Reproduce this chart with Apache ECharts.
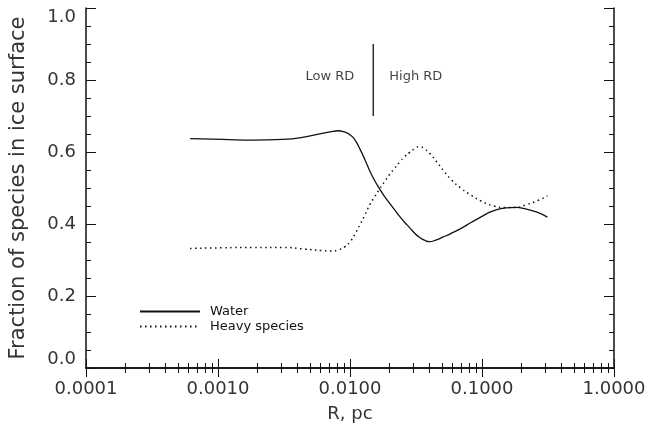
<!DOCTYPE html>
<html>
<head>
<meta charset="utf-8">
<script src="https://cdn.jsdelivr.net/npm/echarts@6/dist/echarts.min.js"></script>
<style>
  html, body { margin: 0; padding: 0; background: #fff; }
  #chart { width: 651px; height: 432px; }
</style>
</head>
<body>
<div id="chart"></div>
<script>
// radius (pc) sampled along both curves
const radius = [0.000615, 0.00109, 0.00183, 0.00308, 0.00459, 0.00615, 0.00707, 0.00813, 0.00916, 0.0100,
  0.0109, 0.0119, 0.0130, 0.0141, 0.0154, 0.0168, 0.0183, 0.0200, 0.0218, 0.0238,
  0.0259, 0.0283, 0.0308, 0.0336, 0.0366, 0.0400, 0.0451, 0.0509, 0.0585, 0.0695,
  0.0827, 0.0983, 0.123, 0.152, 0.180, 0.214, 0.264, 0.313];
const water = [0.637, 0.635, 0.633, 0.635, 0.642, 0.652, 0.656, 0.659, 0.655, 0.648,
  0.634, 0.608, 0.578, 0.548, 0.520, 0.497, 0.476, 0.457, 0.439, 0.421,
  0.405, 0.390, 0.375, 0.363, 0.355, 0.351, 0.356, 0.364, 0.374, 0.388,
  0.404, 0.420, 0.437, 0.445, 0.446, 0.442, 0.432, 0.419];
const heavy = [0.332, 0.334, 0.335, 0.335, 0.330, 0.326, 0.325, 0.328, 0.337, 0.350,
  0.372, 0.398, 0.426, 0.453, 0.476, 0.498, 0.518, 0.538, 0.555, 0.572,
  0.587, 0.599, 0.609, 0.615, 0.609, 0.597, 0.574, 0.549, 0.523, 0.499,
  0.480, 0.464, 0.450, 0.446, 0.446, 0.453, 0.465, 0.478];

// Low RD / High RD divider
const dividerR = 0.015;
const dividerY = [0.7, 0.9];
const regionLabels = ['Low RD', 'High RD'];
const regionLabelY = 0.808;

const font = 'DejaVu Sans';
const ink = '#111';

let chart = echarts.init(document.getElementById('chart'));

function pairs(ys) {
  return radius.map(function (r, i) { return [r, ys[i]]; });
}

let frameAxis = {
  type: 'log',
  logBase: 10,
  min: 0.0001,
  max: 1,
  axisLine: { show: true, lineStyle: { color: ink, width: 1.5 } },
  axisTick: { show: true, inside: true, length: 9, lineStyle: { color: ink, width: 1 } },
  minorTick: { show: true, splitNumber: 9, length: 5, lineStyle: { color: ink, width: 1 } },
  splitLine: { show: false },
  minorSplitLine: { show: false }
};

let frameY = {
  type: 'value',
  min: 0,
  max: 1,
  interval: 0.2,
  axisLine: { show: true, lineStyle: { color: ink, width: 1.5 } },
  axisTick: { show: true, inside: true, length: 10, lineStyle: { color: ink, width: 1 } },
  minorTick: { show: true, splitNumber: 4, length: 5, lineStyle: { color: ink, width: 1 } },
  splitLine: { show: false }
};

let option = {
  animation: false,
  backgroundColor: '#fff',
  grid: { left: 82, right: 37, top: 8, bottom: 64 },
  legend: {
    orient: 'vertical',
    left: 139,
    top: 305,
    padding: 0,
    itemWidth: 60,
    itemHeight: 12,
    itemGap: 2,
    itemStyle: { opacity: 0, borderWidth: 0 },
    textStyle: { fontFamily: font, fontSize: 13, color: ink, padding: [0, 0, 0, 5] },
    data: ['Water', 'Heavy species']
  },
  xAxis: [
    Object.assign({}, frameAxis, {
      position: 'bottom',
      name: 'R, pc',
      nameLocation: 'middle',
      nameGap: 37,
      nameTextStyle: { fontFamily: font, fontSize: 18, color: '#333' },
      axisLabel: {
        fontFamily: font, fontSize: 18, color: '#333', margin: 12,
        formatter: function (v) { return v.toFixed(4); }
      }
    }),
    Object.assign({}, frameAxis, { position: 'top', axisLabel: { show: false } })
  ],
  yAxis: [
    Object.assign({}, frameY, {
      position: 'left',
      name: 'Fraction of species in ice surface',
      nameLocation: 'middle',
      nameGap: 57,
      nameTextStyle: { fontFamily: font, fontSize: 21, color: '#333' },
      axisLabel: {
        fontFamily: font, fontSize: 18, color: '#333', margin: 10,
        verticalAlignMinLabel: 'bottom',
        verticalAlignMaxLabel: 'top',
        formatter: function (v) { return v.toFixed(1); }
      }
    }),
    Object.assign({}, frameY, { position: 'right', axisLabel: { show: false } })
  ],
  series: [
    {
      name: 'Water',
      type: 'line',
      data: pairs(water),
      symbol: 'none',
      smooth: 0.5,
      lineStyle: { color: ink, width: 1.3, type: 'solid' },
      itemStyle: { color: ink }
    },
    {
      name: 'Heavy species',
      type: 'line',
      data: pairs(heavy),
      symbol: 'none',
      smooth: 0.5,
      lineStyle: { color: ink, width: 1.5, type: [1.5, 3.5] },
      itemStyle: { color: ink }
    },
    {
      name: 'divider',
      type: 'line',
      data: dividerY.map(function (y) { return [dividerR, y]; }),
      symbol: 'none',
      lineStyle: { color: ink, width: 1.3 },
      silent: true
    },
    {
      name: 'regions',
      type: 'scatter',
      symbolSize: 0,
      silent: true,
      data: [
        { value: [dividerR, regionLabelY], label: { position: 'left', distance: 19, formatter: regionLabels[0] } },
        { value: [dividerR, regionLabelY], label: { position: 'right', distance: 16, formatter: regionLabels[1] } }
      ],
      label: { show: true, fontFamily: font, fontSize: 13, color: ink }
    }
  ]
};

chart.setOption(option, true);
</script>
</body>
</html>
